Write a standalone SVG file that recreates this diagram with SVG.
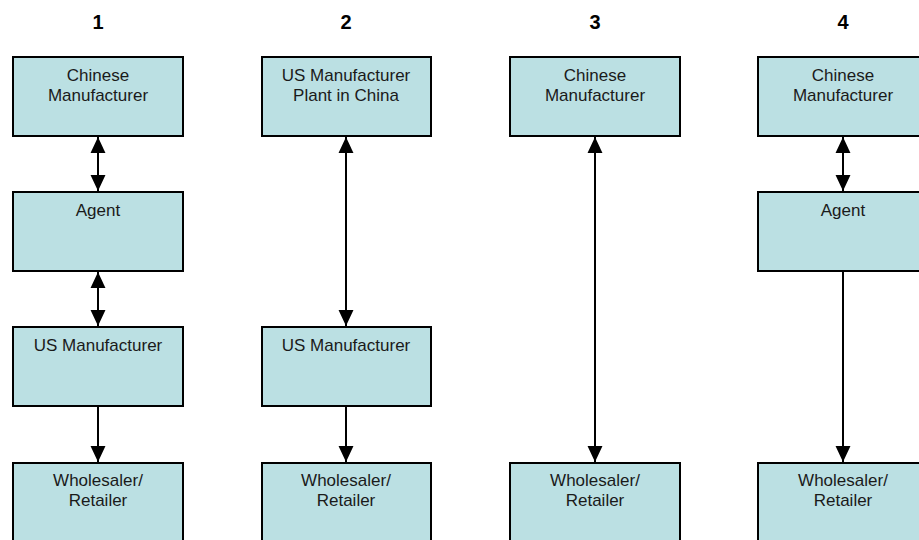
<svg xmlns="http://www.w3.org/2000/svg" width="919" height="540" viewBox="0 0 919 540">
<style>
.box{fill:#BBE0E3;stroke:#000;stroke-width:2}
.lbl{font-family:"Liberation Sans",Arial,sans-serif;font-size:17px;fill:#1a1a1a;text-anchor:middle}
.ttl{font-family:"Liberation Sans",Arial,sans-serif;font-size:20px;font-weight:bold;fill:#000;text-anchor:middle}
.con{stroke:#000;stroke-width:2;fill:none}
</style>
<defs>
<marker id="ah" markerUnits="userSpaceOnUse" markerWidth="16" markerHeight="16" viewBox="0 0 15 14" refX="15" refY="7" orient="auto-start-reverse">
<path d="M0,0 L15,7 L0,14 Z" fill="#000"/>
</marker>
</defs>
<rect width="919" height="540" fill="#fff"/>
<g id="titles">
<text class="ttl" x="98" y="29">1</text>
<text class="ttl" x="346" y="29">2</text>
<text class="ttl" x="595" y="29">3</text>
<text class="ttl" x="843" y="29">4</text>
</g>
<g id="c1-chinese"><rect class="box" x="13" y="57" width="170" height="79"/><text class="lbl" x="98" y="81">Chinese</text><text class="lbl" x="98" y="101">Manufacturer</text></g>
<g id="c1-agent"><rect class="box" x="13" y="192" width="170" height="79"/><text class="lbl" x="98" y="216">Agent</text></g>
<g id="c1-us"><rect class="box" x="13" y="327" width="170" height="79"/><text class="lbl" x="98" y="351">US Manufacturer</text></g>
<g id="c1-wholesaler"><rect class="box" x="13" y="463" width="170" height="82"/><text class="lbl" x="98" y="486">Wholesaler/</text><text class="lbl" x="98" y="506">Retailer</text></g>

<g id="c2-plant"><rect class="box" x="262" y="57" width="169" height="79"/><text class="lbl" x="346" y="81">US Manufacturer</text><text class="lbl" x="346" y="101">Plant in China</text></g>
<g id="c2-us"><rect class="box" x="262" y="327" width="169" height="79"/><text class="lbl" x="346" y="351">US Manufacturer</text></g>
<g id="c2-wholesaler"><rect class="box" x="262" y="463" width="169" height="82"/><text class="lbl" x="346" y="486">Wholesaler/</text><text class="lbl" x="346" y="506">Retailer</text></g>

<g id="c3-chinese"><rect class="box" x="510" y="57" width="170" height="79"/><text class="lbl" x="595" y="81">Chinese</text><text class="lbl" x="595" y="101">Manufacturer</text></g>
<g id="c3-wholesaler"><rect class="box" x="510" y="463" width="170" height="82"/><text class="lbl" x="595" y="486">Wholesaler/</text><text class="lbl" x="595" y="506">Retailer</text></g>

<g id="c4-chinese"><rect class="box" x="758" y="57" width="170" height="79"/><text class="lbl" x="843" y="81">Chinese</text><text class="lbl" x="843" y="101">Manufacturer</text></g>
<g id="c4-agent"><rect class="box" x="758" y="192" width="170" height="79"/><text class="lbl" x="843" y="216">Agent</text></g>
<g id="c4-wholesaler"><rect class="box" x="758" y="463" width="170" height="82"/><text class="lbl" x="843" y="486">Wholesaler/</text><text class="lbl" x="843" y="506">Retailer</text></g>

<g id="connectors">
<line class="con" x1="98" y1="137" x2="98" y2="191" marker-start="url(#ah)" marker-end="url(#ah)"/>
<line class="con" x1="98" y1="272" x2="98" y2="326" marker-start="url(#ah)" marker-end="url(#ah)"/>
<line class="con" x1="98" y1="407" x2="98" y2="462" marker-end="url(#ah)"/>
<line class="con" x1="346" y1="137" x2="346" y2="326" marker-start="url(#ah)" marker-end="url(#ah)"/>
<line class="con" x1="346" y1="407" x2="346" y2="462" marker-end="url(#ah)"/>
<line class="con" x1="595" y1="137" x2="595" y2="462" marker-start="url(#ah)" marker-end="url(#ah)"/>
<line class="con" x1="843" y1="137" x2="843" y2="191" marker-start="url(#ah)" marker-end="url(#ah)"/>
<line class="con" x1="843" y1="272" x2="843" y2="462" marker-end="url(#ah)"/>
</g>
</svg>
